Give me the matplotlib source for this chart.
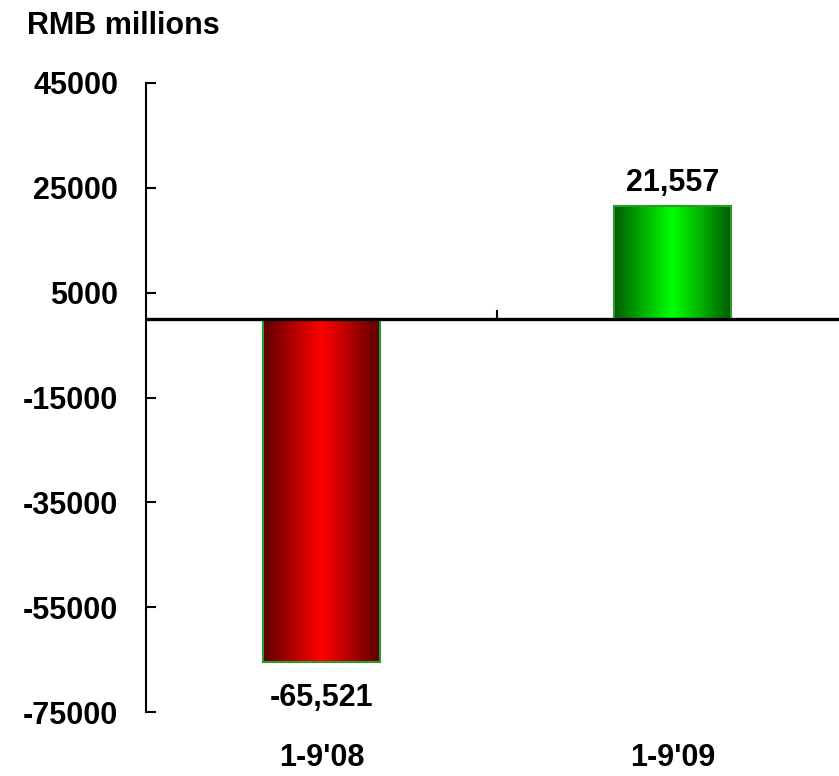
import numpy as np
import matplotlib
matplotlib.use("Agg")
import matplotlib.pyplot as plt
from matplotlib.colors import LinearSegmentedColormap

# --------------------------
# Dados
# --------------------------
categories = ["1-9'08", "1-9'09"]
values = [-65521, 21557]
y_ticks = [45000, 25000, 5000, -15000, -35000, -55000, -75000]
unit_label = "RMB millions"

# cores do gradiente (borda escura -> centro claro -> borda escura)
bar_gradients = [
    ["#5c0000", "#b00000", "#ff0000", "#b00000", "#5c0000"],
    ["#005c00", "#00b000", "#00ff00", "#00b000", "#005c00"],
]

plt.rcParams["font.family"] = ["Liberation Sans", "DejaVu Sans"]
plt.rcParams["font.weight"] = "bold"

fig = plt.figure(figsize=(8.39, 7.76), dpi=100)
# eixo se estende além da borda direita, como no original
ax = fig.add_axes([146 / 839, 64 / 776, 702 / 839, 629 / 776])

bar_w = 0.333
x = np.arange(len(categories))
grad = np.linspace(0, 1, 256).reshape(1, -1)

for xi, v, cols in zip(x, values, bar_gradients):
    cmap = LinearSegmentedColormap.from_list("g", cols)
    ax.imshow(grad, cmap=cmap, aspect="auto", zorder=2,
              extent=[xi - bar_w / 2, xi + bar_w / 2, min(0, v), max(0, v)])
    ax.bar(xi, v, width=bar_w, color="none", edgecolor="#2a9a2a",
           linewidth=1.5, zorder=3)
    if v >= 0:
        ax.annotate(f"{v:,}", (xi, v), xytext=(0, 6), textcoords="offset points",
                    ha="center", va="bottom", fontsize=22, fontweight="bold")
    else:
        ax.annotate(f"{v:,}", (xi, v), xytext=(0, -15), textcoords="offset points",
                    ha="center", va="top", fontsize=22, fontweight="bold")

# linha do zero e marca entre categorias
ax.axhline(0, color="black", linewidth=2.4, zorder=4)
ax.plot([0.5, 0.5], [0, 1500], color="black", linewidth=1.5, zorder=4)

ax.set_xlim(-0.5, 1.5)
ax.set_ylim(-75000, 45000)
ax.set_yticks(y_ticks)
ax.set_yticklabels([str(t) for t in y_ticks])
ax.set_xticks(x)
ax.set_xticklabels(categories)

for s in ["top", "right", "bottom"]:
    ax.spines[s].set_visible(False)
ax.spines["left"].set_linewidth(1.5)
ax.tick_params(axis="y", direction="in", length=7, width=1.5, pad=20,
               labelsize=22)
ax.tick_params(axis="x", length=0, pad=22, labelsize=22)
for lab in ax.get_xticklabels() + ax.get_yticklabels():
    lab.set_fontweight("bold")

fig.text(27 / 839, 1 - 34 / 776, unit_label, fontsize=22, fontweight="bold",
         va="baseline", ha="left")

fig.savefig("out.png", dpi=100)
